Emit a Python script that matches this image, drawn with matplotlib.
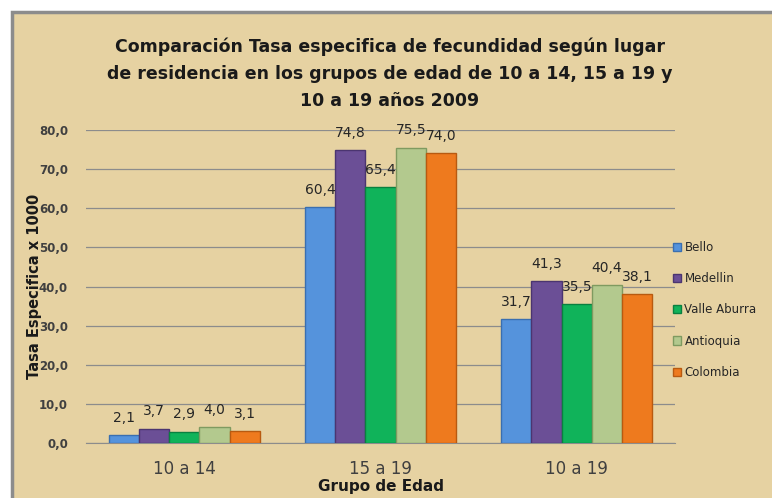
import numpy as np
import matplotlib
matplotlib.use('Agg')
import matplotlib.pyplot as plt
from matplotlib.patches import Rectangle

# data
grupos = ['10 a 14', '15 a 19', '10 a 19']
lugares = ['Bello', 'Medellin', 'Valle Aburra', 'Antioquia', 'Colombia']
bello = [2.1, 60.4, 31.7]
medellin = [3.7, 74.8, 41.3]
valle_aburra = [2.9, 65.4, 35.5]
antioquia = [4.0, 75.5, 40.4]
colombia = [3.1, 74.0, 38.1]
series = [bello, medellin, valle_aburra, antioquia, colombia]
colores = ['#5593DC', '#6B4F96', '#10B35A', '#B3C98E', '#EE7A1E']
bordes = ['#3A6FB0', '#4B3570', '#0A8040', '#7F9A60', '#B85A10']

fondo = '#E6D2A2'

fig = plt.figure(figsize=(7.72, 4.98), dpi=100)
fig.patch.set_facecolor('white')
# parchment frame (only top and left edges show)
fig.patches.append(Rectangle((12/772, -0.1), 1.2, 1.1 - 12/498, transform=fig.transFigure,
                             facecolor=fondo, edgecolor='#8C8C8C', linewidth=2.5, zorder=-10))

ax = fig.add_axes([86/772, 55/498, 589/772, 313/498])
ax.set_facecolor('none')

x = np.arange(len(grupos))
ancho = 0.154
for i, (vals, c, b) in enumerate(zip(series, colores, bordes)):
    pos = x + (i - 2) * ancho
    ax.bar(pos, vals, ancho, color=c, edgecolor=b, linewidth=1.0, label=lugares[i], zorder=3)
    for px, v in zip(pos, vals):
        ax.text(px, v + 2.6, f'{v:.1f}'.replace('.', ','), ha='center', va='bottom',
                fontsize=10, color='#262626', zorder=4)

ax.set_ylim(0, 80)
ax.set_xlim(-0.5, 2.5)
ax.set_yticks(np.arange(0, 81, 10))
ax.set_yticklabels([f'{t:.1f}'.replace('.', ',') for t in np.arange(0, 81, 10)],
                   fontsize=8.5, fontweight='bold', color='#404040')
ax.set_xticks(x)
ax.set_xticklabels(grupos, fontsize=12, color='#404040')
ax.tick_params(axis='both', length=0)
ax.tick_params(axis='x', pad=12)
ax.tick_params(axis='y', pad=13)
ax.yaxis.grid(True, color='#8C8C8C', linewidth=0.9, zorder=1)
for s in ['top', 'right', 'left']:
    ax.spines[s].set_visible(False)
ax.spines['bottom'].set_color('#8C8C8C')

ax.set_ylabel('Tasa Especifica x 1000', fontsize=10.5, fontweight='bold', color='#1a1a1a', labelpad=-2)
ax.set_xlabel('Grupo de Edad', fontsize=11, fontweight='bold', color='#1a1a1a', labelpad=1)

fig.text(0.505, 1 - 37/498, 'Comparación Tasa especifica de fecundidad según lugar\n'
         'de residencia en los grupos de edad de 10 a 14, 15 a 19 y\n10 a 19 años 2009',
         ha='center', va='top', fontsize=12.5, fontweight='bold', color='#1a1a1a',
         linespacing=1.65)

ax.legend(loc='upper left', bbox_to_anchor=(0.978, 0.68), frameon=False, fontsize=8.5,
          handlelength=0.7, handleheight=0.7, handletextpad=0.3, labelspacing=1.55,
          labelcolor='#262626')

fig.savefig('out.png', dpi=100, facecolor=fig.get_facecolor())
